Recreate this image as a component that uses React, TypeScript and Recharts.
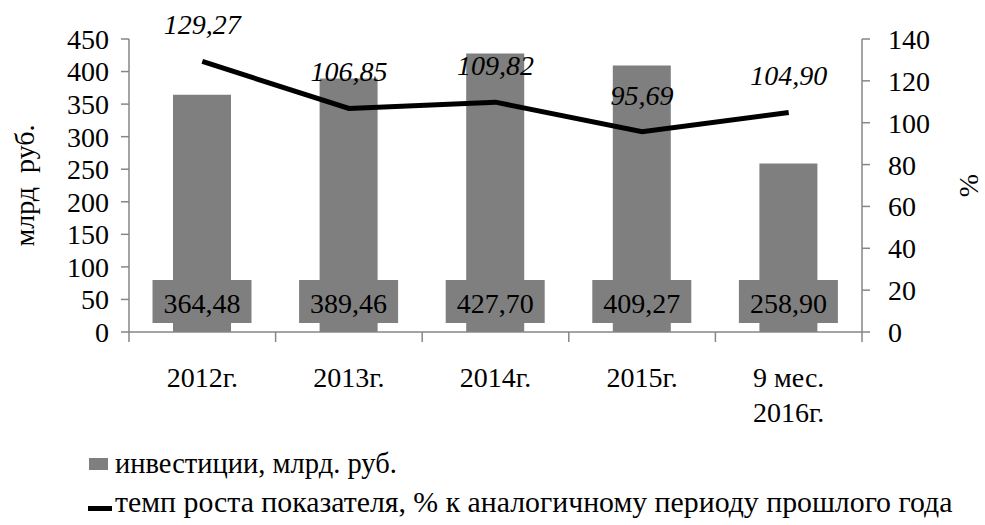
import { ComposedChart, Bar, Line, XAxis, YAxis, Legend, LabelList } from "recharts";

const years = ["2012г.", "2013г.", "2014г.", "2015г.", "9 мес.\n2016г."];
const investments = [364.48, 389.46, 427.7, 409.27, 258.9];
const growth = [129.27, 106.85, 109.82, 95.69, 104.9];
const leftTicks = [0, 50, 100, 150, 200, 250, 300, 350, 400, 450];
const rightTicks = [0, 20, 40, 60, 80, 100, 120, 140];

const data = years.map((year, i) => ({
  year,
  inv: investments[i],
  rate: growth[i],
}));

const W = 985;
const H = 525;
const LEFT = 129;
const RIGHT = 123;
const BAND = (W - LEFT - RIGHT) / years.length;
const FONT = "Liberation Serif";
const GREY = "#7f7f7f";
const AXIS = "#868686";

const fmt = (v: number) => v.toFixed(2).replace(".", ",");

function XTick(props: any) {
  const { x, y, payload, index } = props;
  const lines = String(payload.value).split("\n");
  const axisY = y - 8;
  return (
    <g>
      <line x1={x - BAND / 2} x2={x - BAND / 2} y1={axisY} y2={axisY + 10} stroke={AXIS} strokeWidth={1.5} />
      {index === years.length - 1 && (
        <line x1={x + BAND / 2} x2={x + BAND / 2} y1={axisY} y2={axisY + 10} stroke={AXIS} strokeWidth={1.5} />
      )}
      {lines.map((t, i) => (
        <text key={i} x={x} y={axisY + 55 + i * 35} textAnchor="middle" fontSize={28} fontFamily={FONT} fill="#000">
          {t}
        </text>
      ))}
    </g>
  );
}

function BarValue(props: any) {
  const { x, y, width, height, value } = props;
  const cx = x + width / 2;
  const bottom = y + height;
  return (
    <g>
      <rect x={cx - 49.5} y={bottom - 52} width={99} height={43} fill={GREY} />
      <text x={cx} y={bottom - 19} textAnchor="middle" fontSize={28} fontFamily={FONT} fill="#000">
        {fmt(value)}
      </text>
    </g>
  );
}

function LineValue(props: any) {
  const { x, y, value } = props;
  return (
    <text x={x} y={y - 27} textAnchor="middle" fontSize={28} fontStyle="italic" fontFamily={FONT} fill="#000">
      {fmt(value)}
    </text>
  );
}

function LegendBox() {
  return (
    <svg width={W} height={100} style={{ display: "block" }}>
      <rect x={89} y={33} width={19} height={12} fill={GREY} />
      <text x={115} y={48} fontSize={28.5} fontFamily={FONT} fill="#000">
        инвестиции, млрд. руб.
      </text>
      <rect x={88} y={81} width={24} height={5} fill="#000" />
      <text x={115} y={87} fontSize={29.8} fontFamily={FONT} fill="#000">
        темп роста показателя, % к аналогичному периоду прошлого года
      </text>
    </svg>
  );
}

export default function App() {
  return (
    <div style={{ position: "absolute", left: 0, top: 0, width: W, height: H, background: "#fff" }}>
      <ComposedChart width={W} height={H} data={data} margin={{ top: 39, right: 0, bottom: 0, left: 0 }} barSize={58}>
        <XAxis
          dataKey="year"
          xAxisId="x"
          tick={<XTick />}
          tickLine={false}
          axisLine={{ stroke: AXIS, strokeWidth: 1.5 }}
          height={93}
          interval={0}
        />
        <YAxis
          yAxisId="left"
          domain={[0, 450]}
          ticks={leftTicks}
          width={LEFT}
          tickSize={8}
          tickMargin={12}
          tickLine={{ stroke: AXIS, strokeWidth: 1.5 }}
          axisLine={{ stroke: AXIS, strokeWidth: 1.5 }}
          tick={{ fontSize: 28, fontFamily: FONT, fill: "#000" }}
          label={{ value: "млрд\u00a0 руб.", angle: -90, position: "insideLeft", offset: 24, style: { fontSize: 28, fontFamily: FONT, fill: "#000", textAnchor: "middle" } }}
          interval={0}
        />
        <YAxis
          yAxisId="right"
          orientation="right"
          domain={[0, 140]}
          ticks={rightTicks}
          width={RIGHT}
          tickSize={8}
          tickMargin={18}
          tickLine={{ stroke: AXIS, strokeWidth: 1.5 }}
          axisLine={{ stroke: AXIS, strokeWidth: 1.5 }}
          tick={{ fontSize: 28, fontFamily: FONT, fill: "#000", textAnchor: "start" }}
          label={{ value: "%", angle: -90, position: "insideRight", offset: 17, style: { fontSize: 28, fontFamily: FONT, fill: "#000", textAnchor: "middle" } }}
          interval={0}
        />
        <Bar dataKey="inv" xAxisId="x" yAxisId="left" fill={GREY} isAnimationActive={false}>
          <LabelList dataKey="inv" content={<BarValue />} />
        </Bar>
        <Line
          dataKey="rate"
          xAxisId="x"
          yAxisId="right"
          type="linear"
          stroke="#000"
          strokeWidth={5}
          dot={false}
          activeDot={false}
          isAnimationActive={false}
        >
          <LabelList dataKey="rate" content={<LineValue />} />
        </Line>
        <Legend verticalAlign="bottom" height={100} content={<LegendBox />} wrapperStyle={{ left: 0, width: W, bottom: 0 }} />
      </ComposedChart>
    </div>
  );
}
